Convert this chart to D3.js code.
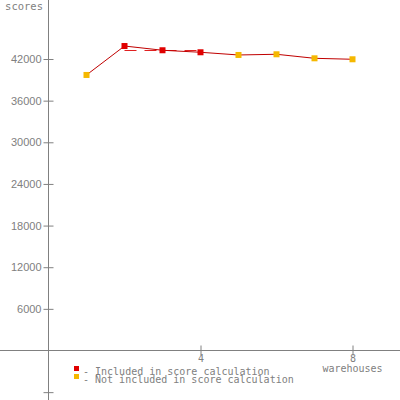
<!DOCTYPE html>
<html><head><meta charset="utf-8">
<script src="https://cdn.jsdelivr.net/npm/d3@7"></script>
<style>body{margin:0;background:#fff}svg{display:block}</style>
</head><body>
<svg id="c" width="400" height="400"></svg>
<script>
const warehouses = [1,2,3,4,5,6,7,8];
const scores = [39700,43870,43260,42970,42580,42680,42100,41960];
const included = [false,true,true,true,false,false,false,false];
const yTicks = [-6000,6000,12000,18000,24000,30000,36000,42000];
const xTicks = [4,8];
const legendLabels = ["- Included in score calculation","- Not included in score calculation"];

const svg = d3.select("#c");
const x = d3.scaleLinear().domain([0,8]).range([48.5,352.5]);
const y = d3.scaleLinear().domain([0,42000]).range([350.5,59]);
const gray = "#808080", txt = "#808080";
const mono = "'DejaVu Sans Mono', monospace";

// y axis
const ya = svg.append("g").attr("transform",`translate(${x(0)},0)`)
  .call(d3.axisLeft(y).tickValues(yTicks).tickSize(4).tickFormat(d=>d<0?"":d));
ya.select(".domain").remove();
ya.append("line").attr("x1",0).attr("x2",0).attr("y1",0).attr("y2",400).attr("stroke",gray);
ya.selectAll(".tick line").attr("x1",-5).attr("x2",5).attr("stroke",gray);
ya.selectAll(".tick text").attr("x",-7).attr("fill",txt)
  .style("font-family","'Liberation Sans', Arial, sans-serif").style("font-size","11px");

// x axis
const xa = svg.append("g").attr("transform",`translate(0,${y(0)})`)
  .call(d3.axisBottom(x).tickValues(xTicks).tickSize(4).tickFormat(d3.format("d")));
xa.select(".domain").remove();
xa.append("line").attr("x1",0).attr("x2",400).attr("y1",0).attr("y2",0).attr("stroke",gray);
xa.selectAll(".tick line").attr("y1",-5).attr("y2",5).attr("stroke",gray);
xa.selectAll(".tick text").attr("y",4).attr("fill",txt)
  .style("font-family",mono).style("font-size","10px");

svg.append("text").attr("x",x(8)).attr("y",372).attr("text-anchor","middle")
  .attr("fill",txt).style("font-family",mono).style("font-size","10px").text("warehouses");
svg.append("text").attr("x",43).attr("y",10).attr("text-anchor","end")
  .attr("fill",txt).style("font-family",mono).style("font-size","10.5px").text("scores");

// score (average) line
const inc = warehouses.filter((w,i)=>included[i]);
const mean = d3.mean(scores.filter((s,i)=>included[i]));
svg.append("line").attr("x1",x(d3.min(inc))).attr("x2",x(d3.max(inc)))
  .attr("y1",Math.round(y(mean))+0.5).attr("y2",Math.round(y(mean))+0.5)
  .attr("stroke","#e02020").attr("stroke-dasharray","12,8");

// data line
const data = warehouses.map((w,i)=>({w,s:scores[i],inc:included[i]}));
svg.append("path").datum(data)
  .attr("d",d3.line().x(d=>x(d.w)).y(d=>y(d.s)))
  .attr("fill","none").attr("stroke","#c00000").attr("stroke-width",1);

svg.selectAll("rect.pt").data(data).enter().append("rect").attr("class","pt")
  .attr("x",d=>x(d.w)-3).attr("y",d=>y(d.s)-3).attr("width",6).attr("height",6)
  .attr("fill",d=>d.inc?"#e00000":"#f5b800");

// legend
const lg = svg.append("g");
legendLabels.forEach((t,i)=>{
  lg.append("rect").attr("x",74).attr("y",368+i*8-2).attr("width",5).attr("height",5)
    .attr("fill",i===0?"#e00000":"#f5b800");
  lg.append("text").attr("x",83).attr("y",375+i*8).attr("fill",txt)
    .style("font-family",mono).style("font-size","10px").text(t);
});
</script>
</body></html>
